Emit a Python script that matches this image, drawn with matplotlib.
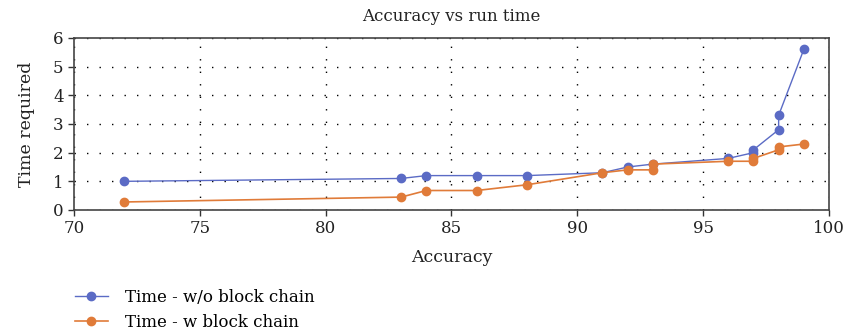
import matplotlib
matplotlib.use("Agg")
import matplotlib.pyplot as plt

plt.rcParams['font.family'] = ['DejaVu Serif']

acc_wo = [72, 83, 84, 86, 88, 91, 92, 93, 96, 97, 97, 98, 98, 99]
time_wo = [1.0, 1.1, 1.2, 1.2, 1.2, 1.3, 1.5, 1.6, 1.8, 2.0, 2.1, 2.8, 3.3, 5.6]
acc_w = [72, 83, 84, 86, 88, 91, 92, 93, 93, 96, 97, 97, 98, 98, 99]
time_w = [0.28, 0.45, 0.68, 0.68, 0.88, 1.3, 1.4, 1.4, 1.6, 1.7, 1.7, 1.8, 2.1, 2.2, 2.3]

xticks = [70, 75, 80, 85, 90, 95, 100]
yticks = [0, 1, 2, 3, 4, 5, 6]

blue = '#5b6bc5'
orange = '#e07b39'

fig = plt.figure(figsize=(8.49, 3.36), dpi=100)
ax = fig.add_axes([0.0872, 0.375, 0.8892, 0.512])

ax.plot(acc_wo, time_wo, color=blue, lw=1.0, marker='o', markersize=6,
        label='Time - w/o block chain', zorder=3)
ax.plot(acc_w, time_w, color=orange, lw=1.2, marker='o', markersize=6,
        label='Time - w block chain', zorder=4)

ax.set_xlim(70, 100)
ax.set_ylim(0, 6)
ax.set_xticks(xticks)
ax.set_yticks(yticks)
ax.grid(True, color='black', linestyle=(0, (1.0, 8.0)), linewidth=1.0)
ax.tick_params(direction='out', length=4, width=1.0, colors='#333333',
               labelcolor='#222222', labelsize=12)
for s in ax.spines.values():
    s.set_color('#444444')
    s.set_linewidth(1.2)

ax.set_title('Accuracy vs run time', fontsize=12, color='#222222', pad=12)
ax.set_xlabel('Accuracy', fontsize=12.5, color='#222222', labelpad=8)
ax.set_ylabel('Time required', fontsize=12.5, color='#222222', labelpad=13)

fig.legend(loc='upper left', bbox_to_anchor=(0.088, 0.14), frameon=False,
           fontsize=12, handlelength=2.0, handletextpad=1.0, labelspacing=0.5,
           borderaxespad=0, borderpad=0)

fig.savefig('out.png', dpi=100)
